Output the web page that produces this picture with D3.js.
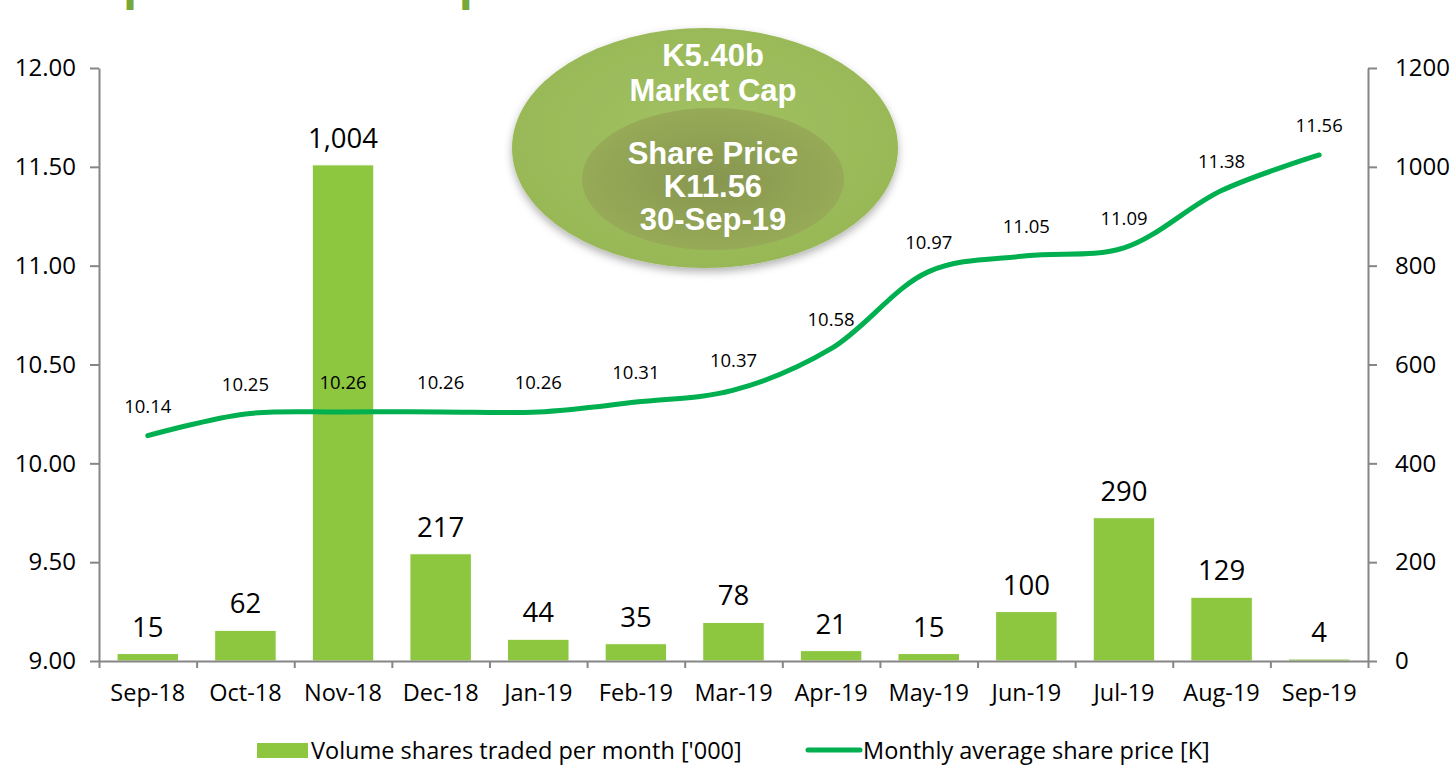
<!DOCTYPE html>
<html>
<head>
<meta charset="utf-8">
<title>Share price and volume</title>
<script src="https://cdn.jsdelivr.net/npm/d3@7/dist/d3.min.js"></script>
<style>
  body { margin: 0; background: #fff; }
  svg text { font-family: "Open Sans", sans-serif; fill: #000; }
  .axis path, .axis line { stroke: #868686; stroke-width: 2px; }
  .axis text { font-size: 24px; }
  .xaxis text { font-size: 23.5px; }
  .bubble text { font-family: "Liberation Sans", Arial, sans-serif; font-weight: bold; fill: #fff; font-size: 31px; text-anchor: middle; }
</style>
</head>
<body>
<div id="chart"></div>
<script>
// data
var months = ["Sep-18", "Oct-18", "Nov-18", "Dec-18", "Jan-19", "Feb-19", "Mar-19",
              "Apr-19", "May-19", "Jun-19", "Jul-19", "Aug-19", "Sep-19"];
var volume = [15, 62, 1004, 217, 44, 35, 78, 21, 15, 100, 290, 129, 4];
var price = [10.14, 10.25, 10.26, 10.26, 10.26, 10.31, 10.37, 10.58, 10.97, 11.05, 11.09, 11.38, 11.56];
var leftTicks = [9.0, 9.5, 10.0, 10.5, 11.0, 11.5, 12.0];
var rightTicks = [0, 200, 400, 600, 800, 1000, 1200];
var bubbleOuter = ["K5.40b", "Market Cap"];
var bubbleInner = ["Share Price", "K11.56", "30-Sep-19"];
var legendLabels = ["Volume shares traded per month ['000]", "Monthly average share price [K]"];
var title = "30 Sep 2018 to 30 Sep 2019";

var W = 1451, H = 765;
var plotL = 99, plotR = 1368, plotT = 68, plotB = 661;
var barColor = "#8dc63f", lineColor = "#00b050";

var svg = d3.select("#chart").append("svg")
    .attr("width", W)
    .attr("height", H);

var defs = svg.append("defs");
var g1 = defs.append("radialGradient").attr("id", "outerFill").attr("cx", "50%").attr("cy", "45%").attr("r", "60%");
g1.append("stop").attr("offset", "0%").attr("stop-color", "#a2c162");
g1.append("stop").attr("offset", "100%").attr("stop-color", "#97b655");
var g2 = defs.append("radialGradient").attr("id", "innerFill").attr("cx", "50%").attr("cy", "50%").attr("r", "55%");
g2.append("stop").attr("offset", "0%").attr("stop-color", "#879650");
g2.append("stop").attr("offset", "100%").attr("stop-color", "#98ac58");
var sh = defs.append("filter").attr("id", "shadow").attr("x", "-20%").attr("y", "-20%").attr("width", "140%").attr("height", "150%");
sh.append("feDropShadow").attr("dx", 0).attr("dy", 4).attr("stdDeviation", 4).attr("flood-color", "#000").attr("flood-opacity", 0.3);

// title, mostly cut off above the picture
svg.append("text")
    .attr("x", 6).attr("y", -1)
    .style("font-size", "46px").style("font-weight", "bold").style("fill", "#77a838")
    .text(title);

var x = d3.scaleBand().domain(months).range([plotL, plotR]).paddingInner(0.37).paddingOuter(0.185);
var xEdge = d3.scaleLinear().domain([0, months.length]).range([plotL, plotR]);
var yL = d3.scaleLinear().domain([9, 12]).range([plotB, plotT]);
var yR = d3.scaleLinear().domain([0, 1200]).range([plotB, plotT]);

// axes
svg.append("g").attr("class", "axis")
    .attr("transform", "translate(" + plotL + ",0)")
    .call(d3.axisLeft(yL).tickValues(leftTicks).tickFormat(d3.format(".2f")).tickSize(9).tickSizeOuter(0).tickPadding(14));

svg.append("g").attr("class", "axis")
    .attr("transform", "translate(" + plotR + ",0)")
    .call(d3.axisRight(yR).tickValues(rightTicks).tickFormat(d3.format("d")).tickSize(9).tickSizeOuter(0).tickPadding(18));

// bars
svg.append("g").selectAll("rect")
    .data(volume)
    .enter().append("rect")
    .attr("x", function(d, i) { return x(months[i]); })
    .attr("y", function(d) { return yR(d); })
    .attr("width", x.bandwidth())
    .attr("height", function(d) { return plotB - yR(d); })
    .attr("fill", barColor)
    .attr("stroke", "#fff")
    .attr("stroke-width", 1);

svg.append("g").selectAll("text")
    .data(volume)
    .enter().append("text")
    .attr("x", function(d, i) { return x(months[i]) + x.bandwidth() / 2; })
    .attr("y", function(d) { return yR(d) - 17; })
    .attr("text-anchor", "middle")
    .style("font-size", "27.5px")
    .text(function(d) { return d3.format(",")(d); });

// x axis: ticks on category edges, labels at centers
svg.append("g").attr("class", "axis")
    .attr("transform", "translate(0," + plotB + ")")
    .call(d3.axisBottom(xEdge).tickValues(d3.range(months.length + 1)).tickFormat("").tickSize(7).tickSizeOuter(0));

svg.append("g").attr("class", "axis xaxis")
    .attr("transform", "translate(0," + plotB + ")")
    .call(d3.axisBottom(x).tickSize(0).tickPadding(23))
    .call(function(g) { g.select(".domain").remove(); });

// price line
var line = d3.line()
    .x(function(d, i) { return x(months[i]) + x.bandwidth() / 2; })
    .y(function(d) { return yL(d); })
    .curve(d3.curveCatmullRom.alpha(0.5));

svg.append("path")
    .datum(price)
    .attr("d", line)
    .attr("fill", "none")
    .attr("stroke", lineColor)
    .attr("stroke-width", 5)
    .attr("stroke-linecap", "round");

svg.append("g").selectAll("text")
    .data(price)
    .enter().append("text")
    .attr("x", function(d, i) { return x(months[i]) + x.bandwidth() / 2; })
    .attr("y", function(d) { return yL(d) - 23; })
    .attr("text-anchor", "middle")
    .style("font-size", "18.5px")
    .text(function(d) { return d3.format(".2f")(d); });

// market cap bubble
var bubble = svg.append("g").attr("class", "bubble");
bubble.append("ellipse")
    .attr("cx", 705).attr("cy", 148).attr("rx", 193).attr("ry", 120)
    .attr("fill", "url(#outerFill)")
    .attr("filter", "url(#shadow)");
bubble.append("ellipse")
    .attr("cx", 713).attr("cy", 179).attr("rx", 131).attr("ry", 71)
    .attr("fill", "url(#innerFill)");
bubble.selectAll("text.o")
    .data(bubbleOuter)
    .enter().append("text").attr("class", "o")
    .attr("x", 713)
    .attr("y", function(d, i) { return 66 + i * 35; })
    .text(function(d) { return d; });
bubble.selectAll("text.i")
    .data(bubbleInner)
    .enter().append("text").attr("class", "i")
    .attr("x", 713)
    .attr("y", function(d, i) { return 164 + i * 33; })
    .text(function(d) { return d; });

// legend
var legend = svg.append("g");
legend.append("rect")
    .attr("x", 257).attr("y", 743).attr("width", 51).attr("height", 15)
    .attr("fill", barColor);
legend.append("text")
    .attr("x", 311).attr("y", 759)
    .style("font-size", "23.5px")
    .text(legendLabels[0]);
legend.append("line")
    .attr("x1", 808).attr("x2", 860).attr("y1", 750).attr("y2", 750)
    .attr("stroke", lineColor).attr("stroke-width", 5).attr("stroke-linecap", "round");
legend.append("text")
    .attr("x", 863).attr("y", 759)
    .style("font-size", "23.5px")
    .text(legendLabels[1]);
</script>
</body>
</html>
